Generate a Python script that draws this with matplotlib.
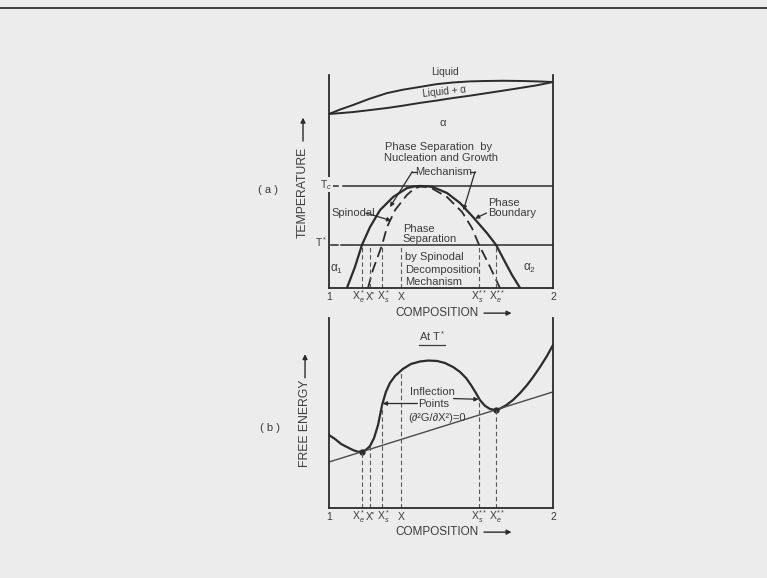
import numpy as np
import matplotlib
matplotlib.use("Agg")
import matplotlib.pyplot as plt
from matplotlib.lines import Line2D

plt.rcParams['font.family'] = ['Liberation Sans', 'DejaVu Sans']
plt.rcParams['mathtext.fontset'] = 'custom'
plt.rcParams['mathtext.rm'] = 'Liberation Sans'
plt.rcParams['mathtext.it'] = 'Liberation Sans:italic'
plt.rcParams['mathtext.bf'] = 'Liberation Sans:bold'

# ---------------- data : panel (a) temperature vs composition ----------------
liq_x = [0.0, 0.05, 0.107, 0.18, 0.259, 0.33, 0.406, 0.48, 0.554, 0.63, 0.705, 0.78, 0.853, 0.93, 1.0]
liq_T = [81.7, 83.8, 85.9, 88.8, 91.5, 93.1, 94.4, 95.7, 96.5, 97.0, 97.2, 97.3, 97.2, 97.0, 96.7]
sol_T = [81.7, 82.1, 82.6, 83.5, 84.5, 85.6, 86.9, 88.0, 89.2, 90.3, 91.5, 92.7, 93.9, 95.2, 96.7]

bin_x = [0.080, 0.116, 0.147, 0.183, 0.228, 0.286, 0.348, 0.377, 0.406, 0.435, 0.464,
         0.527, 0.585, 0.643, 0.705, 0.746, 0.786, 0.817, 0.853]
bin_T = [0.0, 9.9, 20.2, 28.6, 36.6, 42.7, 46.9, 47.6, 47.9, 47.8, 47.4,
         44.6, 39.9, 33.3, 25.8, 20.2, 12.2, 6.1, 0.0]

spin_x = [0.174, 0.196, 0.237, 0.259, 0.295, 0.348, 0.380, 0.406, 0.435, 0.464,
          0.527, 0.594, 0.638, 0.670, 0.719, 0.763]
spin_T = [0.0, 8.5, 20.2, 28.6, 36.6, 43.7, 46.6, 47.6, 47.4, 46.5,
          42.7, 35.7, 28.2, 20.2, 9.9, 0.0]

T_c = 47.9
T_star = 20.2

comp_names = ["X$_e^*$", "X'", "X$_s^*$", "X", "X$_s^{**}$", "X$_e^{**}$"]
comp_vals = [0.147, 0.183, 0.237, 0.321, 0.670, 0.746]
end_names = ["1", "2"]

# ---------------- data : panel (b) free energy at T* ----------------
g_x = [0.000, 0.027, 0.054, 0.080, 0.107, 0.129, 0.147, 0.165, 0.183, 0.201, 0.219,
       0.237, 0.254, 0.272, 0.295, 0.330, 0.366, 0.406, 0.442, 0.482, 0.518, 0.554,
       0.585, 0.612, 0.634, 0.656, 0.674, 0.696, 0.719, 0.741, 0.763, 0.790, 0.821,
       0.853, 0.884, 0.911, 0.942, 0.973, 1.000]
g_G = [38.4, 36.3, 33.7, 32.1, 30.5, 29.6, 29.7, 30.6, 32.6, 36.8, 43.7,
       54.2, 61.1, 65.8, 69.5, 73.2, 75.8, 77.1, 77.6, 77.4, 76.3, 74.2,
       71.6, 68.4, 64.7, 60.5, 56.8, 53.8, 52.1, 51.6, 52.3, 54.0, 56.8,
       60.5, 64.7, 68.9, 74.2, 80.0, 85.8]
tangent_x = [0.0, 1.0]
tangent_G = [24.2, 61.1]

# ---------------- styling ----------------
BG = '#ececec'
INK = '#2b2b2b'
TXT = '#3c3c3c'
GUIDE = '#5a5a5a'
W, H = 767, 578
label_nudge_px = [-3, 0, 1, 0, 0, 1]   # small sideways nudges for crowded labels

fig = plt.figure(figsize=(W / 100, H / 100), dpi=100, facecolor=BG)
fig.add_artist(Line2D([0, 1], [1 - 8 / H, 1 - 8 / H], color='#222222', lw=1.2))

ax_a = fig.add_axes([329 / W, (H - 288) / H, 224 / W, 213 / H])
ax_b = fig.add_axes([329 / W, (H - 508) / H, 224 / W, 190 / H])

for ax in (ax_a, ax_b):
    ax.set_facecolor(BG)
    ax.set_xlim(0, 1)
    ax.spines['top'].set_visible(False)
    for s in ('left', 'right', 'bottom'):
        ax.spines[s].set_color(INK)
        ax.spines[s].set_linewidth(1.3)
    ax.set_yticks([])
    ax.set_xticks([0, 1], end_names)
    ax.tick_params(axis='x', length=0, pad=3, labelsize=7.5, labelcolor=TXT)
    for name, val, dx in zip(comp_names, comp_vals, label_nudge_px):
        ax.annotate(name, xy=(val, 0), xycoords=('data', 'axes fraction'),
                    xytext=(dx, -9), textcoords='offset pixels',
                    fontsize=7.5, color=TXT, ha='center', va='center')

ax_a.set_ylim(0, 100)
ax_b.set_ylim(0, 100)

# ---------------- panel (a) ----------------
ax_a.plot(liq_x, liq_T, color=INK, lw=1.4, solid_capstyle='round')
ax_a.plot(liq_x, sol_T, color=INK, lw=1.4, solid_capstyle='round')
ax_a.plot(bin_x, bin_T, color=INK, lw=1.6)
ax_a.plot(spin_x, spin_T, color=INK, lw=1.3, linestyle=(0, (6, 3)))

# Tc and T* lines
ax_a.plot([0.018, 0.042], [T_c, T_c], color=INK, lw=1.1)
ax_a.plot([0.0625, 1.0], [T_c, T_c], color=INK, lw=1.1)
ax_a.plot([0.01, 0.04], [T_star, T_star], color=INK, lw=1.1)
ax_a.plot([0.055, 1.0], [T_star, T_star], color=INK, lw=1.1)
ax_a.text(-0.012, T_c + 0.5, "T$_c$", fontsize=7.5, color=TXT, ha='center', va='center',
          bbox=dict(boxstyle='square,pad=0.05', fc=BG, ec='none'))
ax_a.text(-0.035, T_star + 1.2, "T$^*$", fontsize=7.5, color=TXT, ha='center', va='center')

ax_a.vlines(comp_vals, 0, T_star, colors=GUIDE, lw=0.8, linestyles=(0, (4, 2.5)))

fs = 8
ax_a.text(0.518, 101.6, "Liquid", fontsize=7.5, color=TXT, ha='center', va='center')
ax_a.text(0.513, 92.0, "Liquid + α", fontsize=7.2, color=TXT, ha='center', va='center', rotation=6)
ax_a.text(0.509, 77.5, "α", fontsize=8, color=TXT, ha='center', va='center')
ax_a.text(0.49, 66.3, "Phase Separation  by", fontsize=fs, color=TXT, ha='center', va='center')
ax_a.text(0.50, 60.9, "Nucleation and Growth", fontsize=fs, color=TXT, ha='center', va='center')
ax_a.text(0.511, 54.6, "Mechanism", fontsize=fs, color=TXT, ha='center', va='center')

arr = dict(arrowstyle='-|>', lw=0.9, color=INK, mutation_scale=6, shrinkA=0, shrinkB=0)
ax_a.plot([0.393, 0.372], [54.6, 54.6], color=INK, lw=0.9)
ax_a.annotate('', xy=(0.272, 38.0), xytext=(0.372, 54.6), arrowprops=arr)
ax_a.plot([0.629, 0.652], [54.6, 54.6], color=INK, lw=0.9)
ax_a.annotate('', xy=(0.600, 36.5), xytext=(0.652, 54.6), arrowprops=arr)

ax_a.text(0.013, 35.2, "Spinodal", fontsize=fs, color=TXT, ha='left', va='center')
ax_a.annotate('', xy=(0.278, 31.6), xytext=(0.165, 35.2), arrowprops=arr)

ax_a.text(0.71, 39.9, "Phase", fontsize=fs, color=TXT, ha='left', va='center')
ax_a.text(0.71, 35.2, "Boundary", fontsize=fs, color=TXT, ha='left', va='center')
ax_a.annotate('', xy=(0.652, 32.6), xytext=(0.703, 35.2), arrowprops=arr)

ax_a.text(0.33, 27.7, "Phase", fontsize=fs, color=TXT, ha='left', va='center')
ax_a.text(0.33, 23.0, "Separation", fontsize=fs, color=TXT, ha='left', va='center')
ax_a.text(0.339, 14.6, "by Spinodal", fontsize=fs, color=TXT, ha='left', va='center')
ax_a.text(0.339, 8.5, "Decomposition", fontsize=fs, color=TXT, ha='left', va='center')
ax_a.text(0.339, 2.8, "Mechanism", fontsize=fs, color=TXT, ha='left', va='center')

ax_a.text(0.036, 8.9, "α$_1$", fontsize=8.5, color=TXT, ha='center', va='center')
ax_a.text(0.897, 9.4, "α$_2$", fontsize=8.5, color=TXT, ha='center', va='center')

# ---------------- panel (b) ----------------
ax_b.plot(g_x, g_G, color=INK, lw=1.6)
ax_b.plot(tangent_x, tangent_G, color='#4a4a4a', lw=1.0)
tan_pts = [comp_vals[0], comp_vals[5]]
ax_b.plot(tan_pts, np.interp(tan_pts, tangent_x, tangent_G), 'o', color=INK, ms=3.5)

tops = np.interp(comp_vals, g_x, g_G)
ax_b.vlines(comp_vals, 0, tops, colors=GUIDE, lw=0.8, linestyles=(0, (4, 2.5)))

at_txt = ax_b.text(0.46, 90.5, "At T$^*$", fontsize=8, color=TXT, ha='center', va='center')
ax_b.text(0.46, 61.1, "Inflection", fontsize=fs, color=TXT, ha='center', va='center')
ax_b.text(0.465, 54.7, "Points", fontsize=fs, color=TXT, ha='center', va='center')
ax_b.text(0.482, 47.4, "(∂²G/∂X²)=0", fontsize=fs, color=TXT, ha='center', va='center')
ax_b.annotate('', xy=(0.240, 55.0), xytext=(0.395, 55.0), arrowprops=arr)
ax_b.annotate('', xy=(0.668, 57.2), xytext=(0.556, 57.6), arrowprops=arr)

# ---------------- axis titles ----------------
for ax, ycomp in ((ax_a, -0.118), (ax_b, -0.127)):
    ax.text(0.482, ycomp, "COMPOSITION", transform=ax.transAxes, fontsize=8.5,
            color=TXT, ha='center', va='center')
    ax.annotate('', xy=(0.815, ycomp), xytext=(0.692, ycomp), xycoords='axes fraction',
                textcoords='axes fraction',
                arrowprops=dict(arrowstyle='-|>', lw=1.0, color=INK, mutation_scale=7,
                                shrinkA=0, shrinkB=0))

ax_a.text(-0.116, 0.451, "TEMPERATURE", transform=ax_a.transAxes, rotation=90, fontsize=8.8,
          color=TXT, ha='center', va='center')
ax_a.annotate('', xy=(-0.116, 0.80), xytext=(-0.116, 0.69), xycoords='axes fraction',
              textcoords='axes fraction',
              arrowprops=dict(arrowstyle='-|>', lw=1.0, color=INK, mutation_scale=7,
                              shrinkA=0, shrinkB=0))
ax_b.text(-0.107, 0.447, "FREE ENERGY", transform=ax_b.transAxes, rotation=90, fontsize=8.8,
          color=TXT, ha='center', va='center')
ax_b.annotate('', xy=(-0.107, 0.81), xytext=(-0.107, 0.685), xycoords='axes fraction',
              textcoords='axes fraction',
              arrowprops=dict(arrowstyle='-|>', lw=1.0, color=INK, mutation_scale=7,
                              shrinkA=0, shrinkB=0))

ax_a.text(-0.272, 0.46, "( a )", transform=ax_a.transAxes, fontsize=8, color=TXT,
          ha='center', va='center')
ax_b.text(-0.263, 0.421, "( b )", transform=ax_b.transAxes, fontsize=8, color=TXT,
          ha='center', va='center')

# underline for "At T*" drawn from the text's own extent
fig.canvas.draw()
bb = at_txt.get_window_extent().transformed(fig.transFigure.inverted())
fig.add_artist(Line2D([bb.x0, bb.x1], [bb.y0 - 0.003, bb.y0 - 0.003], color=TXT, lw=0.9))

fig.savefig("out.png", dpi=100, facecolor=BG)
